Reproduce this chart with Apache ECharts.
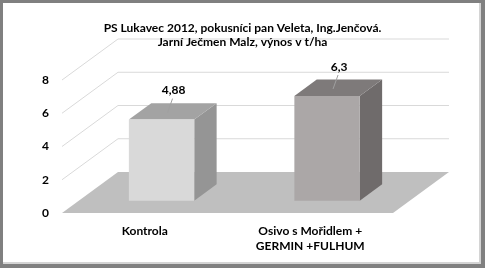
<!DOCTYPE html>
<html>
<head>
<meta charset="utf-8">
<script src="https://cdn.jsdelivr.net/npm/echarts@6/dist/echarts.min.js"></script>
<style>
  html, body { margin: 0; padding: 0; width: 485px; height: 268px; overflow: hidden; background: #808080; }
  #inner { position: absolute; left: 3px; top: 3px; width: 476px; height: 259px; background: #ffffff; border-right: 2px solid #d4d4d4; border-bottom: 2px solid #d4d4d4; }
  #chart { position: absolute; left: 0; top: 0; width: 485px; height: 268px; }
</style>
</head>
<body>
<div id="inner"></div>
<div id="chart"></div>
<script>
const titleLines = ['PS Lukavec 2012, pokusníci pan Veleta, Ing.Jenčová.', 'Jarní Ječmen Malz, výnos v t/ha'];
const categories = ['Kontrola', 'Osivo s Mořidlem +\nGERMIN +FULHUM'];
const yields = [4.88, 6.3];
const yTicks = [0, 2, 4, 6, 8];

const FONT = 'Lato, "Open Sans", sans-serif';
const barColors = [
  { front: '#d9d9d9', top: '#a3a3a3', side: '#959595' },
  { front: '#aba7a7', top: '#7e7a7a', side: '#6f6b6b' }
];
const DEPTH_X = 56, DEPTH_Y = 41;

const chart = echarts.init(document.getElementById('chart'));

function wallRender(params, api) {
  const cs = params.coordSys;
  const x0 = cs.x, x1 = cs.x + cs.width;
  const children = [];
  const y0 = api.coord([0, 0])[1];
  // floor
  children.push({
    type: 'polygon',
    shape: { points: [[x0, y0], [x1, y0], [x1 + DEPTH_X, y0 - DEPTH_Y], [x0 + DEPTH_X, y0 - DEPTH_Y]] },
    style: { fill: '#bfbfbf' }
  });
  yTicks.forEach(function (v) {
    if (v === 0) return;
    const y = api.coord([0, v])[1];
    children.push({
      type: 'polyline',
      shape: { points: [[x0, y], [x0 + DEPTH_X, y - DEPTH_Y], [x1 + DEPTH_X, y - DEPTH_Y]] },
      style: { stroke: '#d9d9d9', lineWidth: 1, fill: null }
    });
  });
  return { type: 'group', children: children };
}

function barRender(params, api) {
  const idx = params.dataIndex;
  const cat = api.value(0), val = api.value(1);
  const base = api.coord([cat, 0]);
  const topPt = api.coord([cat, val]);
  const band = api.size([1, 0])[0];
  const w = band * 0.395;
  const fx = DEPTH_X * 0.3, fy = DEPTH_Y * 0.3;
  const dx = DEPTH_X * 0.4, dy = DEPTH_Y * 0.4;
  const L = base[0] + fx - w / 2, R = L + w;
  const B = base[1] - fy, T = topPt[1] - fy;
  const c = barColors[idx];
  const lx = (L + R) / 2 + 12, ly = T - 29;
  return {
    type: 'group',
    children: [
      { type: 'polygon', shape: { points: [[R, B], [R + dx, B - dy], [R + dx, T - dy], [R, T]] }, style: { fill: c.side } },
      { type: 'polygon', shape: { points: [[L, T], [R, T], [R + dx, T - dy], [L + dx, T - dy]] }, style: { fill: c.top } },
      { type: 'rect', shape: { x: L, y: T, width: w, height: B - T }, style: { fill: c.front } },
      { type: 'line', shape: { x1: lx - 1, y1: ly + 8, x2: (L + R) / 2 + 6, y2: T - 7 }, style: { stroke: '#a0a0a0', lineWidth: 1 } },
      { type: 'text', x: lx, y: ly, style: { text: String(val).replace('.', ','), fill: '#000', font: 'bold 12px ' + FONT, align: 'center', verticalAlign: 'middle' } }
    ]
  };
}

chart.setOption({
  animation: false,
  title: {
    text: titleLines.join('\n'),
    left: 'center',
    top: 16,
    textStyle: { fontFamily: FONT, fontSize: 12, fontWeight: 'bold', color: '#000', lineHeight: 14 }
  },
  grid: { left: 62, right: 92, top: 80, bottom: 55 },
  xAxis: {
    type: 'category',
    data: categories,
    axisLine: { show: false },
    axisTick: { show: false },
    axisLabel: { margin: 11, fontFamily: FONT, fontSize: 12, fontWeight: 'bold', color: '#000', lineHeight: 15, interval: 0 }
  },
  yAxis: {
    type: 'value',
    min: 0, max: 8, interval: 2,
    axisLine: { show: false },
    axisTick: { show: false },
    splitLine: { show: false },
    axisLabel: { margin: 13, fontFamily: FONT, fontSize: 12, fontWeight: 'bold', color: '#000' }
  },
  series: [
    { type: 'custom', renderItem: wallRender, data: [[0, 0]], z: 1, silent: true, clip: false },
    { type: 'custom', renderItem: barRender, data: yields.map(function (v, i) { return [i, v]; }), encode: { x: 0, y: 1 }, z: 2, clip: false }
  ]
});
</script>
</body>
</html>
